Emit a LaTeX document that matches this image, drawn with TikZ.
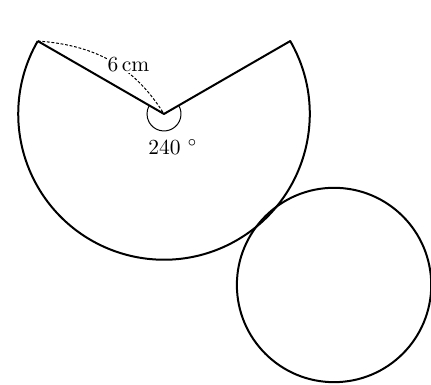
\documentclass[tikz,border=0pt]{standalone}
\usepackage{amsmath}
\usepackage{tikz}
\usetikzlibrary{calc}

\begin{document}
\begin{tikzpicture}[
  x=24.3pt, y=24.3pt,
  edge/.style={line width=2pt, line join=round},
  guide/.style={dashed, line width=1pt, dash pattern=on 2.8pt off 1.8pt},
  anglemark/.style={line width=1pt},
  lbl/.style={scale=2.15, inner sep=0.5pt}
]
  \useasboundingbox (-6.75,-11.15) rectangle (10.99,4.69);
  \coordinate (O) at (0,0);
  \coordinate (A) at (150:6);
  \coordinate (B) at (30:6);
  \coordinate (C) at (7,-7.04);
  % sector of 240 degrees
  \draw[edge] (A) -- (O) -- (B) arc[start angle=30, end angle=-210, radius=6];
  \draw[anglemark] ($(O)+(30:0.7)$) arc[start angle=30, end angle=-210, radius=0.7];
  % base circle
  \draw[edge] (C) circle[radius=4];
  % labels
  \draw[guide] (A) to[out=-4, in=122] (O);
  \node[lbl, fill=white] (len) at (-1.46,2.02) {$6\,\mathrm{cm}$};
  \node[lbl] (ang) at (0.37,-1.36) {$240\ ^\circ$};
\end{tikzpicture}
\end{document}
